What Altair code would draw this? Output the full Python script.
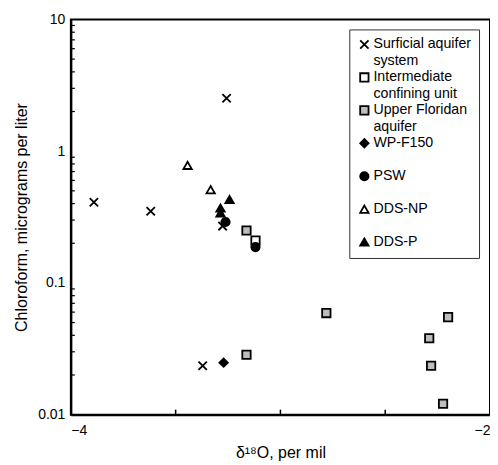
import altair as alt
import pandas as pd

groups = ["Surficial aquifer system", "Intermediate confining unit", "Upper Floridan aquifer",
          "WP-F150", "PSW", "DDS-NP", "DDS-P"]

surf_x = [-3.890, -3.619, -3.257, -3.276, -3.371]
surf_y = [0.41, 0.35, 2.52, 0.27, 0.0235]
inter_x = [-3.119]
inter_y = [0.21]
ufa_x = [-3.162, -3.162, -2.781, -2.200, -2.290, -2.281, -2.224]
ufa_y = [0.25, 0.0285, 0.059, 0.055, 0.038, 0.0235, 0.0121]
wp_x = [-3.271]
wp_y = [0.0248]
psw_x = [-3.262, -3.119]
psw_y = [0.29, 0.187]
ddsnp_x = [-3.443, -3.333]
ddsnp_y = [0.78, 0.51]
ddsp_x = [-3.243, -3.286, -3.286]
ddsp_y = [0.43, 0.37, 0.34]

xs = [surf_x, inter_x, ufa_x, wp_x, psw_x, ddsnp_x, ddsp_x]
ys = [surf_y, inter_y, ufa_y, wp_y, psw_y, ddsnp_y, ddsp_y]

rows = []
for g, gx, gy in zip(groups, xs, ys):
    for a, b in zip(gx, gy):
        rows.append({"group": g, "d18O": a, "chloroform": b})
df = pd.DataFrame(rows)

x_ticks = [-3.5, -3.0, -2.5]
y_minor = [m * 10.0 ** e for e in (-2, -1, 0) for m in range(2, 10)]

W, H = 420, 396
FONT = "Liberation Sans"

shapes = ["M-1,-1L1,1M-1,1L1,-1", "square", "square",
          "diamond", "circle", "triangle-up", "triangle-up"]
fills = ["black", "white", "#bdbdbd", "black", "black", "white", "black"]
strokes = ["black"] * 7

xscale = alt.Scale(domain=[-4, -2], nice=False, zero=False)
yscale = alt.Scale(type="log", domain=[0.01, 10], nice=False)

label_expr = (
    "datum.label == 'Surficial aquifer system' ? ['Surficial aquifer', 'system'] : "
    "datum.label == 'Intermediate confining unit' ? ['Intermediate', 'confining unit'] : "
    "datum.label == 'Upper Floridan aquifer' ? ['Upper Floridan', 'aquifer'] : "
    "datum.label == 'DDS-P' ? datum.label : [datum.label, ' ']"
)

legend = alt.Legend(
    title=None, orient="none", legendX=279, legendY=10,
    labelExpr=label_expr, labelFont=FONT, labelFontSize=14.2, labelColor="black",
    labelBaseline="middle",
    strokeColor="#333", padding=8, rowPadding=1, labelOffset=2,
    symbolStrokeColor="black", symbolStrokeWidth=1.8, symbolSize=70,
)

points = alt.Chart(df).mark_point(filled=True, size=70, strokeWidth=1.8, opacity=1).encode(
    x=alt.X("d18O:Q", scale=xscale,
            axis=alt.Axis(title="δ¹⁸O, per mil", values=[-4, -3, -2], format="d", tickSize=0,
                          labelPadding=9, grid=False, titlePadding=7)),
    y=alt.Y("chloroform:Q", scale=yscale,
            axis=alt.Axis(title="Chloroform, micrograms per liter", values=[0.01, 0.1, 1, 10],
                          format="~g", tickSize=0, labelPadding=6, grid=False, titlePadding=8)),
    shape=alt.Shape("group:N", scale=alt.Scale(domain=groups, range=shapes), legend=legend),
    fill=alt.Fill("group:N", scale=alt.Scale(domain=groups, range=fills), legend=legend),
    stroke=alt.Stroke("group:N", scale=alt.Scale(domain=groups, range=strokes), legend=legend),
)

xt = alt.Chart(pd.DataFrame({"v": x_ticks})).mark_rule(color="black", strokeWidth=1.5).encode(
    x=alt.X("v:Q", scale=xscale), y=alt.value(H), y2=alt.value(H - 5))
ymin = alt.Chart(pd.DataFrame({"v": y_minor})).mark_rule(color="black", strokeWidth=1.2).encode(
    y=alt.Y("v:Q", scale=yscale), x=alt.value(0), x2=alt.value(4))

chart = alt.layer(xt, ymin, points).properties(
    width=W, height=H,
    autosize=alt.AutoSizeParams(type="none"),
    padding={"left": 63, "top": 11, "right": 0, "bottom": 52},
).configure_view(stroke="black", strokeWidth=2).configure_axis(
    domainColor="black", domainWidth=2, labelFont=FONT, labelFontSize=14, labelColor="black",
    titleFont=FONT, titleFontSize=16, titleFontWeight="normal", titleColor="black",
).configure_legend(labelFont=FONT)

chart.save("out.html", embed_options={"renderer": "svg", "actions": False})
